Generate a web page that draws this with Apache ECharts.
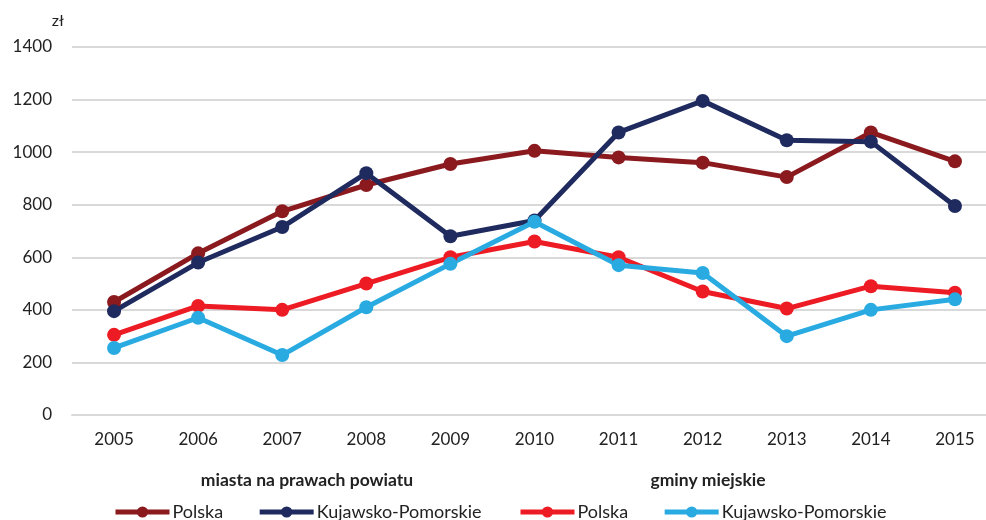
<!DOCTYPE html>
<html>
<head>
<meta charset="utf-8">
<script src="https://cdn.jsdelivr.net/npm/echarts@6/dist/echarts.min.js"></script>
<style>
  html, body { margin: 0; padding: 0; background: #fff; }
  #chart { width: 986px; height: 520px; }
</style>
</head>
<body>
<div id="chart"></div>
<script>
// dane
const years = ['2005', '2006', '2007', '2008', '2009', '2010', '2011', '2012', '2013', '2014', '2015'];
const miastaPolska = [430, 615, 775, 875, 955, 1005, 980, 960, 905, 1075, 965];
const miastaKujawsko = [395, 580, 715, 920, 680, 740, 1075, 1195, 1045, 1040, 795];
const gminyPolska = [305, 415, 400, 500, 600, 660, 600, 470, 405, 490, 465];
const gminyKujawsko = [255, 370, 228, 410, 575, 735, 570, 540, 300, 400, 440];
const yTicks = [0, 200, 400, 600, 800, 1000, 1200, 1400];

const FONT = 'Lato, "Open Sans", sans-serif';
const TXT = '#222';

let chart = echarts.init(document.getElementById('chart'));

// seria liniowa z kropkami
function makeLine(name, data, color) {
  return {
    name: name,
    type: 'line',
    data: data,
    symbol: 'circle',
    symbolSize: 14,
    lineStyle: { width: 5, color: color },
    itemStyle: { color: color },
    emphasis: { disabled: true }
  };
}

const legendCommon = {
  top: 503,
  padding: 0,
  itemWidth: 54,
  itemHeight: 14,
  itemGap: 34,
  lineStyle: { width: 5 },
  textStyle: { fontFamily: FONT, fontSize: 18, color: TXT, padding: [0, 0, 0, -2] },
  formatter: name => name.split('|')[0]
};

chart.setOption({
  animation: false,
  title: [
    { text: 'miasta na prawach powiatu', left: 302, top: 466, textAlign: 'center',
      textStyle: { fontFamily: FONT, fontSize: 17.5, fontWeight: 'bold', color: TXT } },
    { text: 'gminy miejskie', left: 703, top: 466, textAlign: 'center',
      textStyle: { fontFamily: FONT, fontSize: 17.5, fontWeight: 'bold', color: TXT } }
  ],
  legend: [
    Object.assign({ left: 113, data: ['Polska|m', 'Kujawsko-Pomorskie|m'] }, legendCommon),
    Object.assign({ left: 518, data: ['Polska|g', 'Kujawsko-Pomorskie|g'] }, legendCommon)
  ],
  grid: { left: 72, right: -11, top: 47, bottom: 105, outerBoundsMode: 'none' },
  xAxis: {
    type: 'category',
    data: years,
    boundaryGap: true,
    axisLine: { lineStyle: { color: '#d9d9d9', width: 2 } },
    axisTick: { show: false },
    axisLabel: { fontFamily: FONT, fontSize: 17, color: TXT, margin: 16 }
  },
  yAxis: {
    type: 'value',
    min: yTicks[0],
    max: yTicks[yTicks.length - 1],
    interval: 200,
    name: 'zł',
    nameLocation: 'end',
    nameGap: 18,
    nameTextStyle: { fontFamily: FONT, fontSize: 16, color: TXT, align: 'right', padding: [0, 8, 0, 0] },
    axisLine: { show: false },
    axisTick: { show: false },
    axisLabel: { fontFamily: FONT, fontSize: 17, color: TXT, margin: 20, formatter: v => String(v) },
    splitLine: { lineStyle: { color: '#d9d9d9', width: 2 } }
  },
  series: [
    makeLine('Polska|m', miastaPolska, '#8b1a1f'),
    makeLine('Kujawsko-Pomorskie|m', miastaKujawsko, '#1f2a5e'),
    makeLine('Polska|g', gminyPolska, '#ed1c24'),
    makeLine('Kujawsko-Pomorskie|g', gminyKujawsko, '#29abe2')
  ]
});
</script>
</body>
</html>
